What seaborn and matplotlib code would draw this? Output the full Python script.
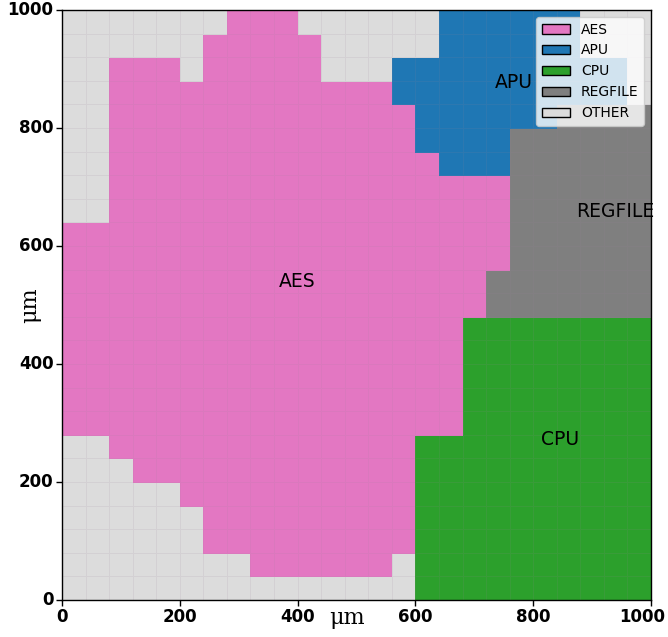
import numpy as np
import pandas as pd
import matplotlib
matplotlib.use("Agg")
import matplotlib.pyplot as plt
from matplotlib.colors import ListedColormap
from matplotlib.patches import Patch
from matplotlib.transforms import ScaledTranslation
import seaborn as sns

# ---- data -------------------------------------------------------------
CELL = 40  # um per grid cell
blocks = ["AES", "APU", "CPU", "REGFILE", "OTHER"]
codes = ["A", "P", "C", "R", "O"]
colors = ["#e377c2", "#1f77b4", "#2ca02c", "#7f7f7f", "#dcdcdc"]

# floorplan rows, listed from the top row (960-1000 um) down to the bottom row (0-40 um)
rows_top_down = [
    "OOOOOOOAAAOOOOOOPPPPPPOOO",
    "OOOOOOAAAAAOOOOOPPPPPPOOO",
    "OOAAAOAAAAAOOOPPPPPPPPPPO",
    "OOAAAAAAAAAAAAPPPPPPPPPPO",
    "OOAAAAAAAAAAAAAPPPPPPRRRR",
    "OOAAAAAAAAAAAAAPPPPRRRRRR",
    "OOAAAAAAAAAAAAAAPPPRRRRRR",
    "OOAAAAAAAAAAAAAAAAARRRRRR",
    "OOAAAAAAAAAAAAAAAAARRRRRR",
    "AAAAAAAAAAAAAAAAAAARRRRRR",
    "AAAAAAAAAAAAAAAAAAARRRRRR",
    "AAAAAAAAAAAAAAAAAARRRRRRR",
    "AAAAAAAAAAAAAAAAAARRRRRRR",
    "AAAAAAAAAAAAAAAAACCCCCCCC",
    "AAAAAAAAAAAAAAAAACCCCCCCC",
    "AAAAAAAAAAAAAAAAACCCCCCCC",
    "AAAAAAAAAAAAAAAAACCCCCCCC",
    "AAAAAAAAAAAAAAAAACCCCCCCC",
    "OOAAAAAAAAAAAAACCCCCCCCCC",
    "OOOAAAAAAAAAAAACCCCCCCCCC",
    "OOOOOAAAAAAAAAACCCCCCCCCC",
    "OOOOOOAAAAAAAAACCCCCCCCCC",
    "OOOOOOAAAAAAAAACCCCCCCCCC",
    "OOOOOOOOAAAAAAOCCCCCCCCCC",
    "OOOOOOOOOOOOOOOCCCCCCCCCC",
]

label_names = ["AES", "APU", "REGFILE", "CPU"]
label_x_um = [400, 768, 940, 845]
label_y_um = [540, 877, 658, 272]

tick_um = [0, 200, 400, 600, 800, 1000]

# ---- build matrix (row 0 = bottom) -------------------------------------
code_idx = {c: i for i, c in enumerate(codes)}
grid = np.array([[code_idx[ch] for ch in row] for row in rows_top_down[::-1]])
df = pd.DataFrame(grid)

# ---- figure -----------------------------------------------------------
fig = plt.figure(figsize=(6.68, 6.37), dpi=100)
ax = fig.add_axes([62 / 668, 37 / 637, 589 / 668, 590 / 637])

sns.heatmap(df, cmap=ListedColormap(colors), vmin=-0.5, vmax=len(colors) - 0.5,
            cbar=False, linewidths=0.5, linecolor=(0.6, 0.5, 0.6, 0.12), ax=ax)
ax.invert_yaxis()

n = grid.shape[0]
ax.set_xlim(0, n)
ax.set_ylim(0, n)
pos = [t / CELL for t in tick_um]
ax.set_xticks(pos)
ax.set_yticks(pos)
ax.set_xticklabels([str(t) for t in tick_um], fontsize=12, fontweight="bold", rotation=0)
ax.set_yticklabels([str(t) for t in tick_um], fontsize=12, fontweight="bold", rotation=0)
ax.tick_params(axis="both", which="both", length=4, width=1, direction="out", pad=2)

# nudge the last x tick label left so it stays inside the figure
last = ax.xaxis.get_major_ticks()[-1].label1
last.set_transform(last.get_transform() + ScaledTranslation(-0.09, 0, fig.dpi_scale_trans))

for s in ax.spines.values():
    s.set_visible(True)
    s.set_color("black")
    s.set_linewidth(1.0)

for name, x, y in zip(label_names, label_x_um, label_y_um):
    ax.text(x / CELL, y / CELL, name, ha="center", va="center", fontsize=13.5, color="black")

ax.set_xlabel("μm", family="DejaVu Serif", fontsize=16)
ax.set_ylabel("μm", family="DejaVu Serif", fontsize=16)
ax.xaxis.set_label_coords(0.484, -0.03)
ax.xaxis.label.set_va("center")
ax.yaxis.set_label_coords(-0.0545, 0.5)
ax.yaxis.label.set_va("center")

handles = [Patch(facecolor=c, edgecolor="black", linewidth=1.0, label=b)
           for b, c in zip(blocks, colors)]
ax.legend(handles=handles, loc="upper right", fontsize=10, framealpha=0.8)

fig.savefig("out.png", dpi=100)
